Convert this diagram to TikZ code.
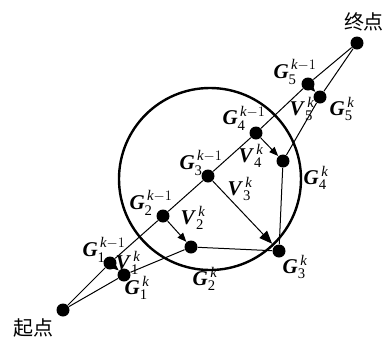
\documentclass[tikz,border=0pt]{standalone}
\usepackage{amsmath}
\usepackage{fontspec}
\setmainfont{Liberation Serif}
\newfontfamily\cjk{Noto Sans CJK SC}
\usetikzlibrary{arrows.meta}
\tikzset{
  every picture/.style={line width=1pt},
  dot/.style={circle, fill=black, inner sep=0pt, minimum size=13pt},
  lbl/.style={font=\fontsize{21}{22}\selectfont, inner sep=0pt},
  place/.style={font=\cjk\fontsize{20}{21}\selectfont, inner sep=0pt},
  vec/.style={-{Triangle[length=#1, width=0.8*#1]}},
  vec/.default=9pt,
  ring/.style={draw, circle, line width=2.4pt, minimum size=182pt, inner sep=0pt},
}
\newcommand{\gk}[3]{\textbf{\textit{#1}}$_{\text{#2}}^{\,#3}$}

\begin{document}
\begin{tikzpicture}[x=1pt, y=-1pt]
  \useasboundingbox (0,0) rectangle (384,338);
  \node[ring] (zone) at (210,179) {};
  % points
  \node[dot] (s) at (63,310) {};
  \node[dot] (e) at (357,43) {};
  \node[dot] (a1) at (110,263) {};
  \node[dot] (a2) at (163,216) {};
  \node[dot] (a3) at (208,176) {};
  \node[dot] (a4) at (256,133) {};
  \node[dot] (a5) at (308,84) {};
  \node[dot] (b1) at (124,275) {};
  \node[dot] (b2) at (191,247) {};
  \node[dot] (b3) at (279,251) {};
  \node[dot] (b4) at (283,161) {};
  \node[dot] (b5) at (320,97) {};
  % paths
  \draw (s) -- (a1) -- (a2) -- (a3) -- (a4) -- (a5) -- (e);
  \draw (s) -- (b1) -- (b2) -- (b3) -- (b4) -- (b5) -- (e);
  \draw[vec] (a1) -- (b1);
  \draw[vec] (a2) -- (b2);
  \draw[vec=13pt, shorten >=3pt] (a3) -- (b3);
  \draw[vec] (a4) -- (b4);
  \draw[vec] (a5) -- (b5);
  % labels
  \node[place] (start) at (33,328) {起点};
  \node[place] (goal) at (364,22) {终点};
  \node[lbl] (la1) at (104,250) {\gk{G}{1}{\textit{k}-1}};
  \node[lbl] (la2) at (151,203) {\gk{G}{2}{\textit{k}-1}};
  \node[lbl] (la3) at (201,163) {\gk{G}{3}{\textit{k}-1}};
  \node[lbl] (la4) at (244,118) {\gk{G}{4}{\textit{k}-1}};
  \node[lbl] (la5) at (295,72) {\gk{G}{5}{\textit{k}-1}};
  \node[lbl] (lb1) at (137,288) {\gk{G}{1}{\textit{k}}};
  \node[lbl] (lb2) at (205,279) {\gk{G}{2}{\textit{k}}};
  \node[lbl] (lb3) at (295,267) {\gk{G}{3}{\textit{k}}};
  \node[lbl] (lb4) at (316,178) {\gk{G}{4}{\textit{k}}};
  \node[lbl] (lb5) at (342,109) {\gk{G}{5}{\textit{k}}};
  \node[lbl] (lv1) at (128,263) {\gk{V}{1}{\textit{k}}};
  \node[lbl] (lv2) at (193,218) {\gk{V}{2}{\textit{k}}};
  \node[lbl] (lv3) at (240,189) {\gk{V}{3}{\textit{k}}};
  \node[lbl] (lv4) at (251,156) {\gk{V}{4}{\textit{k}}};
  \node[lbl] (lv5) at (302,109) {\gk{V}{5}{\textit{k}}};
\end{tikzpicture}
\end{document}
